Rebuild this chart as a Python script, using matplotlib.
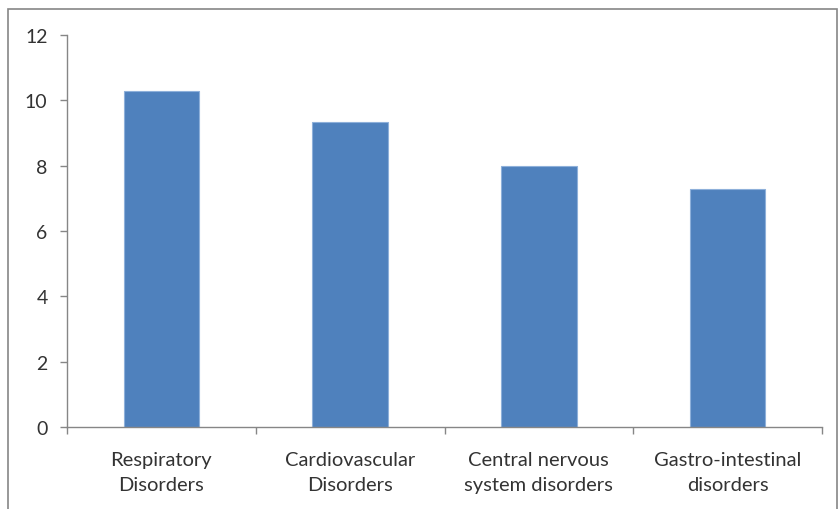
import matplotlib.pyplot as plt
from matplotlib.patches import Rectangle

categories = ['Respiratory\nDisorders', 'Cardiovascular\nDisorders',
              'Central nervous\nsystem disorders', 'Gastro-intestinal\ndisorders']
values = [10.3, 9.35, 8.0, 7.3]
yticks = [0, 2, 4, 6, 8, 10, 12]

plt.rcParams['font.family'] = ['Lato', 'DejaVu Sans']

fig = plt.figure(figsize=(8.38, 5.10), dpi=100)
ax = fig.add_axes([67 / 838, 82 / 510, 755 / 838, 392 / 510])

x = range(len(categories))
ax.bar(x, values, width=0.4, color='#4F81BD', edgecolor='#8EB0DA', linewidth=0.8)

ax.set_xlim(-0.5, len(categories) - 0.5)
ax.set_ylim(0, 12)
ax.set_yticks(yticks)
ax.set_xticks(x)
ax.set_xticklabels(categories, fontsize=14.5, color='#333333', linespacing=1.6)
ax.set_xticks([i - 0.5 for i in range(len(categories) + 1)], minor=True)
ax.tick_params(axis='x', which='major', length=0, pad=17)
ax.tick_params(axis='x', which='minor', length=5, color='#868686', width=1)
ax.tick_params(axis='y', length=5, color='#868686', width=1, labelsize=14,
               labelcolor='#333333', pad=9)

for side in ['top', 'right']:
    ax.spines[side].set_visible(False)
for side in ['left', 'bottom']:
    ax.spines[side].set_color('#868686')
    ax.spines[side].set_linewidth(1)

# outer chart border
fig.patches.append(Rectangle((8 / 838, -0.02), 829 / 838, 1 - 10 / 510 + 0.02,
                             transform=fig.transFigure, fill=False,
                             edgecolor='#868686', linewidth=1.2))

fig.savefig('out.png', dpi=100)
